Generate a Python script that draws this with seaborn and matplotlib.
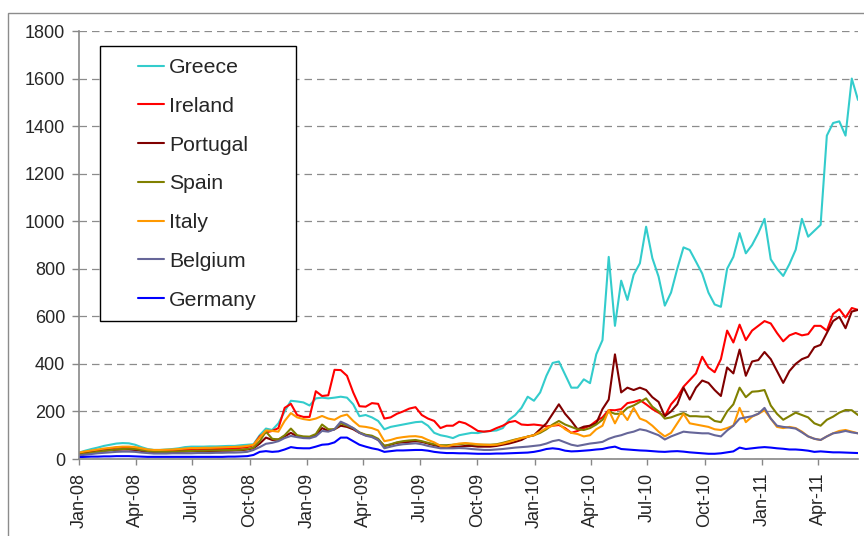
import numpy as np
import pandas as pd
import seaborn as sns
import matplotlib.pyplot as plt
import matplotlib.dates as mdates
from matplotlib.patches import Rectangle

# sample dates, one every 10 days from Jan-08 to early Jun-11
dates = pd.date_range('2008-01-01', periods=126, freq='10D')

greece = [27, 35, 42, 48, 55, 60, 65, 67, 66, 60,
          50, 42, 38, 38, 40, 42, 45, 50, 52, 52,
          52, 53, 53, 54, 55, 55, 58, 60, 62, 100,
          128, 122, 150, 200, 245, 242, 238, 225, 255, 258,
          255, 258, 262, 258, 230, 180, 185, 175, 160, 125,
          135, 140, 145, 150, 155, 157, 140, 110, 100, 95,
          88, 100, 105, 110, 109, 115, 118, 120, 130, 165,
          185, 215, 262, 245, 280, 350, 404, 410, 355, 300,
          300, 335, 319, 440, 500, 850, 560, 750, 669, 775,
          823, 977, 845, 767, 645, 700, 800, 890, 879, 830,
          780, 700, 650, 640, 800, 850, 950, 865, 900, 950,
          1010, 840, 800, 770, 820, 880, 1010, 935, 960, 985,
          1360, 1413, 1420, 1360, 1600, 1510]

ireland = [22, 28, 32, 36, 40, 44, 48, 50, 48, 44,
           40, 35, 32, 32, 33, 34, 36, 38, 40, 41,
           41, 42, 42, 43, 44, 45, 47, 50, 58, 95,
           112, 118, 130, 215, 232, 185, 177, 177, 285, 265,
           268, 375, 374, 350, 280, 222, 220, 235, 232, 170,
           175, 190, 200, 212, 218, 185, 170, 160, 130, 140,
           140, 157, 150, 135, 118, 115, 118, 130, 140, 155,
           160, 145, 143, 145, 142, 137, 140, 143, 130, 110,
           118, 130, 140, 160, 175, 206, 205, 210, 235, 240,
           248, 230, 210, 195, 180, 230, 260, 304, 332, 360,
           430, 385, 365, 420, 540, 490, 565, 500, 540, 560,
           580, 570, 530, 495, 520, 530, 520, 525, 560, 560,
           540, 610, 630, 595, 635, 627]

portugal = [20, 24, 28, 31, 34, 37, 39, 40, 40, 38,
            34, 30, 28, 28, 28, 29, 30, 31, 32, 33,
            33, 34, 34, 35, 35, 36, 37, 40, 45, 65,
            90, 80, 82, 95, 110, 95, 92, 90, 100, 130,
            118, 125, 140, 135, 125, 110, 100, 95, 80, 55,
            60, 68, 70, 72, 75, 72, 65, 58, 52, 50,
            50, 52, 55, 55, 52, 52, 52, 55, 60, 65,
            72, 80, 94, 100, 125, 150, 190, 230, 190, 160,
            125, 136, 140, 150, 210, 250, 440, 280, 300, 290,
            300, 290, 260, 240, 180, 200, 230, 300, 250, 300,
            330, 320, 290, 265, 385, 360, 460, 350, 410, 416,
            450, 420, 370, 320, 370, 400, 420, 430, 470, 480,
            530, 580, 598, 550, 620, 627]

spain = [18, 22, 26, 30, 34, 37, 40, 42, 43, 42,
         38, 34, 31, 30, 30, 31, 32, 33, 34, 35,
         35, 36, 36, 37, 37, 38, 39, 42, 48, 75,
         115, 85, 82, 100, 128, 100, 95, 94, 105, 145,
         125, 125, 150, 140, 130, 112, 102, 98, 85, 55,
         62, 70, 75, 78, 80, 75, 68, 62, 58, 58,
         60, 62, 65, 62, 60, 60, 60, 62, 68, 75,
         82, 88, 94, 100, 110, 125, 145, 160, 145, 135,
         125, 122, 130, 145, 165, 200, 190, 190, 215, 225,
         240, 255, 220, 200, 170, 175, 185, 193, 180, 180,
         178, 178, 160, 155, 200, 230, 300, 260, 283, 285,
         290, 225, 190, 165, 180, 195, 185, 175, 150, 140,
         165, 178, 195, 206, 205, 185]

italy = [27, 32, 36, 40, 44, 47, 50, 52, 52, 50,
         45, 40, 38, 38, 39, 40, 42, 44, 46, 46,
         47, 47, 48, 49, 50, 51, 52, 55, 60, 90,
         120, 118, 115, 160, 193, 175, 168, 164, 170, 181,
         170, 165, 180, 187, 160, 138, 135, 130, 120, 75,
         80, 88, 92, 95, 96, 92, 80, 70, 55, 52,
         60, 65, 67, 65, 62, 60, 59, 60, 65, 72,
         80, 88, 94, 100, 115, 130, 140, 148, 125, 110,
         105, 95, 100, 125, 140, 206, 150, 200, 164, 215,
         170, 160, 140, 115, 95, 110, 150, 190, 150, 145,
         140, 135, 125, 122, 130, 140, 215, 155, 178, 190,
         205, 170, 135, 130, 135, 130, 115, 95, 85, 80,
         95, 108, 118, 122, 115, 108]

belgium = [15, 18, 21, 24, 26, 28, 30, 31, 31, 30,
           27, 25, 23, 23, 23, 24, 24, 24, 24, 25,
           25, 25, 26, 26, 27, 27, 28, 30, 38, 50,
           64, 68, 75, 88, 97, 92, 88, 87, 95, 118,
           115, 125, 157, 145, 130, 110, 98, 92, 80, 45,
           52, 58, 62, 64, 66, 62, 55, 50, 45, 45,
           45, 46, 45, 42, 40, 38, 38, 40, 42, 45,
           48, 50, 52, 55, 58, 65, 75, 80, 70, 60,
           55, 60, 65, 68, 72, 85, 94, 100, 109, 115,
           125, 120, 110, 100, 82, 95, 105, 115, 112, 110,
           108, 108, 100, 95, 120, 140, 170, 175, 180, 190,
           215, 170, 140, 135, 132, 128, 112, 95, 85, 80,
           95, 108, 112, 118, 112, 108]

germany = [8, 9, 10, 10, 11, 11, 12, 12, 12, 11,
           10, 9, 9, 9, 9, 9, 9, 9, 9, 9,
           9, 9, 9, 9, 10, 10, 11, 12, 17, 30,
           33, 30, 32, 40, 50, 46, 45, 45, 52, 60,
           62, 70, 90, 90, 75, 60, 52, 45, 40, 30,
           33, 36, 36, 37, 38, 38, 35, 30, 27, 25,
           25, 24, 24, 23, 22, 22, 22, 23, 23, 24,
           25, 26, 27, 30, 35, 42, 45, 42, 35, 32,
           33, 35, 37, 40, 42, 48, 52, 42, 40, 38,
           36, 35, 33, 31, 30, 32, 33, 31, 28, 26,
           24, 22, 22, 24, 28, 32, 48, 42, 45, 48,
           50, 48, 45, 43, 40, 40, 38, 35, 30, 32,
           30, 28, 28, 27, 26, 25]

countries = ['Greece', 'Ireland', 'Portugal', 'Spain', 'Italy', 'Belgium', 'Germany']
colors = ['#33CCCC', '#FF0000', '#800000', '#808000', '#FF9900', '#666699', '#0000FF']
series = [greece, ireland, portugal, spain, italy, belgium, germany]

df = pd.DataFrame({
    'date': list(dates) * len(countries),
    'spread': np.concatenate(series),
    'country': np.repeat(countries, len(dates)),
})

sns.set_style('white')
plt.rcParams['font.family'] = ['Liberation Sans', 'DejaVu Sans']

W, H = 864, 536
fig = plt.figure(figsize=(W / 100, H / 100), dpi=100)
ax = fig.add_axes([79 / W, 1 - 459 / H, (858 - 79) / W, (459 - 31) / H])

sns.lineplot(data=df, x='date', y='spread', hue='country', hue_order=countries,
             palette=dict(zip(countries, colors)), estimator=None,
             linewidth=1.5, ax=ax)

ax.set_xlim(dates[0], dates[-1])
ax.set_ylim(0, 1800)
ax.set_yticks(range(0, 1801, 200))
ax.xaxis.set_major_locator(mdates.MonthLocator(bymonth=[1, 4, 7, 10]))
ax.xaxis.set_major_formatter(mdates.DateFormatter('%b-%y'))
ax.set_xlabel('')
ax.set_ylabel('')

ax.yaxis.grid(True, linestyle=(0, (6, 4)), color='#8c8c8c', linewidth=0.9)
ax.set_axisbelow(True)
for side in ['top', 'right']:
    ax.spines[side].set_visible(False)
for side in ['left', 'bottom']:
    ax.spines[side].set_color('#888888')
    ax.spines[side].set_linewidth(1.2)

ax.tick_params(axis='y', direction='out', length=5, width=1, color='#888888',
               labelsize=13, pad=5, left=True)
ax.tick_params(axis='x', direction='out', length=4, width=1, color='#888888',
               labelsize=13, pad=6, labelrotation=90, bottom=True)

# legend: Excel-style boxed legend
handles, labels = ax.get_legend_handles_labels()
ax.get_legend().remove()
box = Rectangle((100 / W, 1 - 321 / H), 196 / W, 275 / H, transform=fig.transFigure,
                facecolor='white', edgecolor='black', linewidth=1, zorder=5)
fig.patches.append(box)
leg = fig.legend(handles, labels, loc='upper left', bbox_to_anchor=(138 / W, 1 - 58 / H),
                 frameon=False, fontsize=15.3, handlelength=1.2, handletextpad=0.25,
                 labelspacing=0.93, borderpad=0, borderaxespad=0)
leg.set_zorder(6)

# chart area border
fig.patches.append(Rectangle((8 / W, -0.1), 1.0, 1.1 - 13 / H, transform=fig.transFigure,
                             fill=False, edgecolor='#8c8c8c', linewidth=1, zorder=4))

fig.savefig('out.png', dpi=100)
